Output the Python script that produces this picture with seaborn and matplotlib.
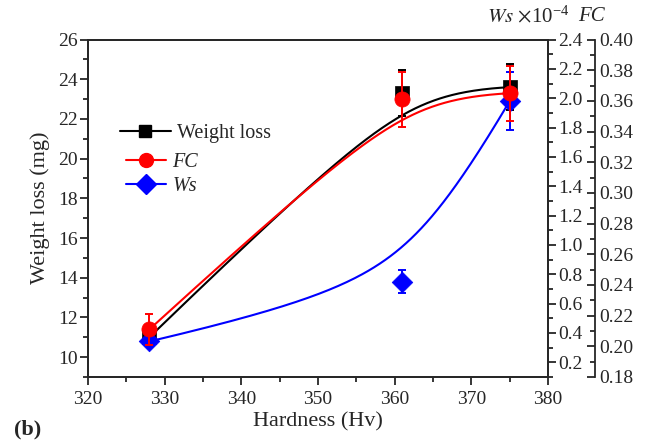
import numpy as np
import pandas as pd
import matplotlib
matplotlib.use('Agg')
from matplotlib import pyplot as plt
from matplotlib.lines import Line2D
from matplotlib.ticker import MultipleLocator, FormatStrFormatter
import seaborn as sns

## data
hardness = [328, 361, 375]
weight_loss = [11.0, 23.3, 23.6]
weight_loss_err = [0.0, 1.15, 1.15]
fc = [0.211, 0.361, 0.365]
fc_err = [0.010, 0.018, 0.018]
ws = [0.342, 0.75, 1.98]
ws_err = [0.03, 0.076, 0.20]


def bspline(x, y, w=2.3, n=200):
    # rational quadratic bezier through the three points (smoothed curve)
    t = np.linspace(0, 1, n)
    b0, b1, b2 = (1 - t) ** 2, 2 * w * t * (1 - t), t ** 2
    d = b0 + b1 + b2
    cx = (b0 * x[0] + b1 * x[1] + b2 * x[2]) / d
    cy = (b0 * y[0] + b1 * y[1] + b2 * y[2]) / d
    return pd.DataFrame({'x': cx, 'y': cy})


sns.set_style('ticks')
plt.rcParams['font.family'] = ['Liberation Serif', 'DejaVu Serif']
plt.rcParams['mathtext.fontset'] = 'stix'
plt.rcParams['axes.linewidth'] = 1.3

fig = plt.figure(figsize=(6.5, 4.44), dpi=100)
ax = fig.add_axes([0.1354, 0.151, 0.7077, 0.76])
ax2 = ax.twinx()
ax3 = ax.twinx()

## weight loss (left axis)
sns.lineplot(data=bspline(hardness, weight_loss), x='x', y='y', sort=False,
             color='black', lw=1.5, ax=ax, legend=False)
ax.errorbar(hardness, weight_loss, yerr=weight_loss_err, fmt='none',
            ecolor='black', elinewidth=1.4, capsize=3, capthick=1.4)
sns.scatterplot(x=hardness, y=weight_loss, marker='s', s=90, color='black',
                edgecolor='black', linewidth=0.5, ax=ax, zorder=5)

## Ws (first right axis)
sns.lineplot(data=bspline(hardness, ws), x='x', y='y', sort=False,
             color='blue', lw=1.5, ax=ax2, legend=False)
ax2.errorbar(hardness, ws, yerr=ws_err, fmt='none',
             ecolor='blue', elinewidth=1.4, capsize=3, capthick=1.4)
sns.scatterplot(x=hardness, y=ws, marker='D', s=110, color='blue',
                edgecolor='blue', linewidth=0.5, ax=ax2, zorder=5)

## FC (offset right axis)
sns.lineplot(data=bspline(hardness, fc), x='x', y='y', sort=False,
             color='red', lw=1.5, ax=ax3, legend=False)
ax3.errorbar(hardness, fc, yerr=fc_err, fmt='none',
             ecolor='red', elinewidth=1.4, capsize=3, capthick=1.4)
sns.scatterplot(x=hardness, y=fc, marker='o', s=120, color='red',
                edgecolor='red', linewidth=0.5, ax=ax3, zorder=5)

## axes, ticks
tsize = 14
ax.set_xlim(320, 380)
ax.set_ylim(9, 26)
ax.xaxis.set_major_locator(MultipleLocator(10))
ax.xaxis.set_minor_locator(MultipleLocator(5))
ax.yaxis.set_major_locator(MultipleLocator(2))
ax.yaxis.set_minor_locator(MultipleLocator(1))
ax.tick_params(which='both', direction='out', width=1.3, labelsize=tsize,
               top=False, right=False)
ax.tick_params(which='major', length=6)
ax.tick_params(which='minor', length=3.5)
ax.tick_params(axis='y', pad=1.5)
ax.tick_params(axis='x', pad=4)

ax2.set_ylim(0.1, 2.4)
ax2.yaxis.set_major_locator(MultipleLocator(0.2))
ax2.yaxis.set_minor_locator(MultipleLocator(0.1))
ax2.yaxis.set_major_formatter(FormatStrFormatter('%.1f'))
ax2.set_ylabel('')
ax2.set_xlabel('')
ax2.tick_params(which='both', direction='out', width=1.3, labelsize=tsize, pad=1.5)
ax2.tick_params(which='major', length=6)
ax2.tick_params(which='minor', length=3.5)

ax3.set_ylim(0.18, 0.40)
ax3.spines['right'].set_position(('axes', 1.102))
for s in ['left', 'top', 'bottom']:
    ax3.spines[s].set_visible(False)
ax3.yaxis.set_major_locator(MultipleLocator(0.02))
ax3.yaxis.set_minor_locator(MultipleLocator(0.01))
ax3.yaxis.set_major_formatter(FormatStrFormatter('%.2f'))
ax3.set_ylabel('')
ax3.set_xlabel('')
ax3.tick_params(which='both', direction='in', width=1.3, labelsize=tsize, pad=3)
ax3.tick_params(which='major', length=6)
ax3.tick_params(which='minor', length=3.5)

ax.set_xlabel('Hardness (Hv)', fontsize=16, labelpad=3)
ax.set_ylabel('Weight loss (mg)', fontsize=16, labelpad=6)

## top labels of the right axes
fig.text(0.749, 0.962, r'$\mathit{Ws}$ $\times$10$^{\mathregular{-4}}$',
         fontsize=15, ha='left', va='center')
fig.text(0.889, 0.962, 'FC', style='italic', fontsize=15, ha='left', va='center')
fig.text(0.022, 0.032, '(b)', fontweight='bold', fontsize=16, ha='left', va='center')

## legends
h1 = [Line2D([], [], color='black', lw=1.5, marker='s', markersize=9)]
leg1 = fig.legend(h1, ['Weight loss'], loc='center left',
                  bbox_to_anchor=(0.185, 0.70), frameon=False, fontsize=14.5,
                  handlelength=2.5, handletextpad=0.3, borderpad=0,
                  borderaxespad=0)
h2 = [Line2D([], [], color='red', lw=1.5, marker='o', markersize=10),
      Line2D([], [], color='blue', lw=1.5, marker='D', markersize=10)]
leg2 = fig.legend(h2, ['FC', 'Ws'], loc='center left',
                  bbox_to_anchor=(0.194, 0.607), frameon=False,
                  prop={'style': 'italic', 'size': 14.5},
                  handlelength=2.0, handletextpad=0.3, borderpad=0,
                  borderaxespad=0, labelspacing=0.2)

fig.savefig('out.png', dpi=100)
